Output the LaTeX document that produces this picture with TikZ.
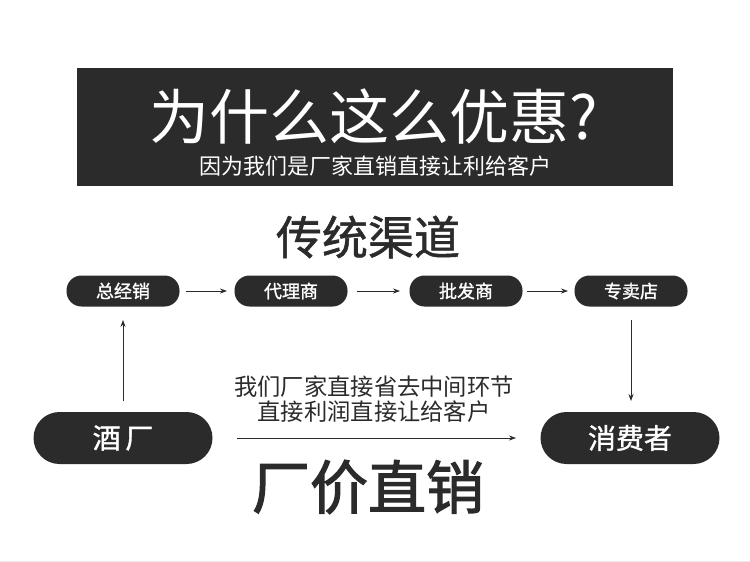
\documentclass[tikz,border=0pt]{standalone}
\usepackage{fontspec}
\newfontfamily\cjk{Noto Sans CJK SC}
\newfontfamily\cjkmed[FakeBold=1.2]{Noto Sans CJK SC}
\newfontfamily\cjksemi[FakeBold=2]{Noto Sans CJK SC}
\usetikzlibrary{arrows.meta}
\definecolor{dark}{HTML}{2B2B2B}

\begin{document}
\begin{tikzpicture}[x=1pt, y=-1pt,
            pill/.style={fill=dark, text=white, rounded corners=15pt, minimum width=113pt, minimum height=31pt, inner sep=0pt, font=\cjkmed\fontsize{18}{18}\selectfont},
            bigpill/.style={fill=dark, text=white, rounded corners=26pt, minimum width=179pt, minimum height=52pt, inner sep=0pt, font=\cjkmed\fontsize{28}{28}\selectfont},
            link/.style={draw=dark, thick, -{Stealth[length=7pt, width=5pt]}}]
            \useasboundingbox (0, 0) rectangle (750, 562);
            \fill[white] (0, 0) rectangle (750, 562);
            \draw[gray!15] (0, 561) -- (750, 561);
            \fill[dark] (77, 68) rectangle (673, 186);
            \node[text=white, inner sep=0pt, font=\cjk\fontsize{60}{60}\selectfont] (title) at (374, 117) {为什么这么优惠?};
            \node[text=white, inner sep=0pt, font=\cjk\fontsize{22}{22}\selectfont] (subtitle) at (375, 166) {因为我们是厂家直销直接让利给客户};
            \node[text=dark, inner sep=0pt, font=\cjkmed\fontsize{46}{46}\selectfont] (channel) at (368, 237) {传统渠道};
            \node[pill] (zongjing) at (123, 291) {总经销};
            \node[pill] (daili) at (291, 291) {代理商};
            \node[pill] (pifa) at (466, 291) {批发商};
            \node[pill] (zhuanmai) at (631, 291) {专卖店};
            \node[bigpill] (jiuchang) at (123, 438) {酒\,厂};
            \node[bigpill] (xiaofei) at (630, 438) {消费者};
            \coordinate (a1) at (186, 291); \coordinate (a2) at (227, 291);
            \coordinate (b1) at (357, 291); \coordinate (b2) at (400, 291);
            \coordinate (c1) at (527, 291); \coordinate (c2) at (568, 291);
            \draw[link] (a1)--(a2);
            \draw[link] (b1)--(b2);
            \draw[link] (c1)--(c2);
            \coordinate (up1) at (123, 401); \coordinate (up2) at (123, 320);
            \draw[link] (up1)--(up2);
            \coordinate (dn1) at (631, 320); \coordinate (dn2) at (631, 401);
            \draw[link] (dn1)--(dn2);
            \node[text=dark, inner sep=0pt, font=\cjk\fontsize{23.3}{23.3}\selectfont] (line1) at (374, 387) {我们厂家直接省去中间环节};
            \node[text=dark, inner sep=0pt, font=\cjk\fontsize{23.3}{23.3}\selectfont] (line2) at (374, 412) {直接利润直接让给客户};
            \coordinate (d1) at (237, 438); \coordinate (d2) at (516, 438);
            \draw[link, semithick] (d1)--(d2);
            \node[text=dark, inner sep=0pt, font=\cjksemi\fontsize{58}{58}\selectfont] (direct) at (368, 487) {厂价直销};
        \end{tikzpicture}
\end{document}
